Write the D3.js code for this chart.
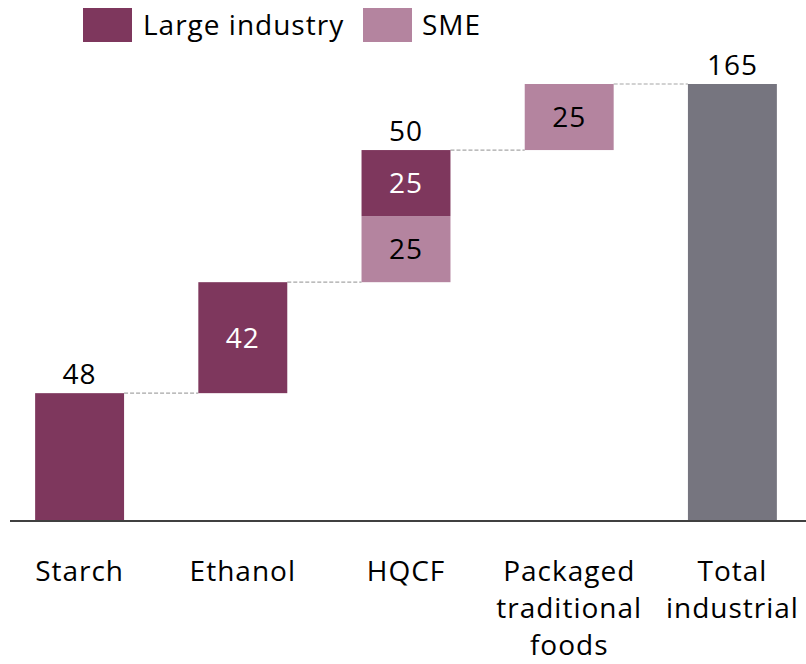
<!DOCTYPE html>
<html><head><meta charset="utf-8">
<script src="https://cdn.jsdelivr.net/npm/d3@7"></script>
<style>body{margin:0;background:#fff}svg{display:block}text{font-family:"Open Sans",sans-serif;letter-spacing:1px}</style>
</head><body>
<script>
const categories = ["Starch","Ethanol","HQCF","Packaged traditional foods","Total industrial"];
const categoryLines = [["Starch"],["Ethanol"],["HQCF"],["Packaged","traditional","foods"],["Total","industrial"]];
const largeValues = [48,42,25,0,0];
const smeValues = [0,0,25,25,0];
const totalValue = 165;
const seriesNames = ["Large industry","SME"];

const W=806,H=664,FS=28;
const colors={large:"#7e375d",sme:"#b4849f",total:"#76757f"};
const svg=d3.select("body").append("svg").attr("width",W).attr("height",H);
const x=d3.scaleBand().domain(categories).range([-2,814]).paddingInner(0.455).paddingOuter(0.2275);
const y=d3.scaleLinear().domain([0,165]).range([520,84]);

const segs=[];const tops=[];let cum=0;
categories.forEach((c,i)=>{
  if(i===categories.length-1){segs.push({c,y0:0,y1:totalValue,type:"total",v:totalValue});tops.push(totalValue);return;}
  if(smeValues[i]>0){segs.push({c,y0:cum,y1:cum+smeValues[i],type:"sme",v:smeValues[i]});cum+=smeValues[i];}
  if(largeValues[i]>0){segs.push({c,y0:cum,y1:cum+largeValues[i],type:"large",v:largeValues[i]});cum+=largeValues[i];}
  tops.push(cum);
});

for(let i=0;i<categories.length-1;i++){
  svg.append("line").attr("x1",x(categories[i])+x.bandwidth()).attr("x2",x(categories[i+1]))
    .attr("y1",y(tops[i])).attr("y2",y(tops[i])).attr("stroke","#a6a6a6").attr("stroke-width",1.2).attr("stroke-dasharray","4,2");
}

svg.selectAll("rect.seg").data(segs).join("rect").attr("class","seg")
  .attr("x",d=>x(d.c)).attr("width",x.bandwidth())
  .attr("y",d=>y(d.y1)).attr("height",d=>y(d.y0)-y(d.y1))
  .attr("fill",d=>colors[d.type]);

const inside=segs.filter(d=>{
  const idx=categories.indexOf(d.c);
  return !(idx===0 || d.type==="total");
});
svg.selectAll("text.in").data(inside).join("text").attr("class","in")
  .attr("x",d=>x(d.c)+x.bandwidth()/2).attr("y",d=>(y(d.y0)+y(d.y1))/2).attr("dy","0.36em")
  .attr("text-anchor","middle").attr("font-size",FS)
  .attr("fill",d=>d.type==="large"?"#fff":"#000").text(d=>d.v);

const above=[{c:categories[0],v:tops[0],t:tops[0]},{c:categories[2],v:largeValues[2]+smeValues[2],t:tops[2]},{c:categories[4],v:totalValue,t:totalValue}];
svg.selectAll("text.ab").data(above).join("text").attr("class","ab")
  .attr("x",d=>x(d.c)+x.bandwidth()/2).attr("y",d=>y(d.t)-9)
  .attr("text-anchor","middle").attr("font-size",FS).attr("fill","#000").text(d=>d.v);

svg.append("line").attr("x1",10).attr("x2",806).attr("y1",521).attr("y2",521).attr("stroke","#404040").attr("stroke-width",2);

categories.forEach((c,i)=>{
  const cx=x(c)+x.bandwidth()/2;
  const t=svg.append("text").attr("text-anchor","middle").attr("font-size",FS).attr("fill","#000");
  categoryLines[i].forEach((ln,j)=>t.append("tspan").attr("x",cx).attr("y",581+j*37).text(ln));
});

const leg=[{n:seriesNames[0],col:colors.large,sx:83,tx:143},{n:seriesNames[1],col:colors.sme,sx:363,tx:422}];
leg.forEach(l=>{
  svg.append("rect").attr("x",l.sx).attr("y",8).attr("width",49).attr("height",34).attr("fill",l.col);
  svg.append("text").attr("x",l.tx).attr("y",25).attr("dy","0.36em").attr("font-size",FS).attr("fill","#000").text(l.n);
});
</script>
</body></html>
